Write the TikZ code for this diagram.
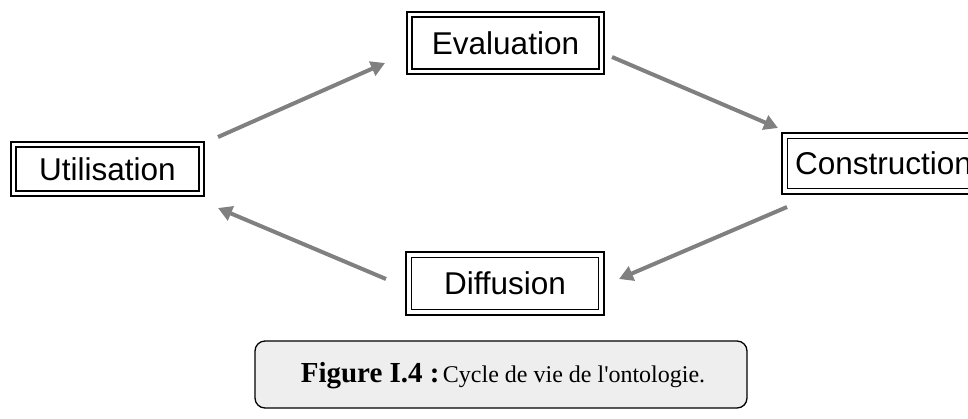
\documentclass[tikz,border=0pt]{standalone}
\usepackage{fontspec}
\setmainfont{Liberation Serif}[Ligatures=TeXOff]
\newfontfamily\boxfont{Liberation Sans}
\usetikzlibrary{arrows.meta}
\definecolor{arrgray}{HTML}{808080}
\definecolor{capfill}{HTML}{EEEEEE}
\begin{document}
\begin{tikzpicture}[x=1pt,y=-1pt,
  stage/.style={draw, line width=1.1pt, rectangle, inner sep=0pt,
    font=\boxfont\fontsize{31.5}{36}\selectfont},
  outerframe/.style={draw, line width=2pt},
  cycarrow/.style={draw=arrgray, line width=4pt,
    -{Triangle[length=14pt,width=15pt]}},
  capbox/.style={draw, fill=capfill, rounded corners=10pt, line width=1.3pt}]
\useasboundingbox (0,0) rectangle (968,418);

% stage boxes (inner frame)
\node[stage, minimum width=187, minimum height=52] (eva) at (505.5,43) {Evaluation};
\node[stage, minimum width=183, minimum height=44] (uti) at (107.5,169) {Utilisation};
\node[stage, minimum width=192, minimum height=50] (con) at (883.5,163.5) {Construction};
\node[stage, minimum width=187, minimum height=52] (dif) at (505,283.5) {Diffusion};

% outer frames
\foreach \n in {eva,uti,con,dif}
  \draw[outerframe] ([shift={(-4.5,-4.5)}]\n.north west) rectangle ([shift={(4.5,4.5)}]\n.south east);

% arrow end points
\coordinate (a1s) at (218,137);
\coordinate (a1e) at (385,63);
\coordinate (a2s) at (612,57);
\coordinate (a2e) at (778,128);
\coordinate (a3s) at (787,207);
\coordinate (a3e) at (619,279);
\coordinate (a4s) at (386,279);
\coordinate (a4e) at (218,208);

\draw[cycarrow] (a1s) -- (a1e);
\draw[cycarrow] (a2s) -- (a2e);
\draw[cycarrow] (a3s) -- (a3e);
\draw[cycarrow] (a4s) -- (a4e);

% caption
\node[capbox, minimum width=492, minimum height=67] (cap) at (501,374.5) {};
\node[inner sep=0pt] (captext) at (503,376)
  {{\fontsize{29}{34}\selectfont\bfseries Figure I.4 :} {\fontsize{24}{28}\selectfont Cycle de vie de l'ontologie.}};
\end{tikzpicture}
\end{document}
